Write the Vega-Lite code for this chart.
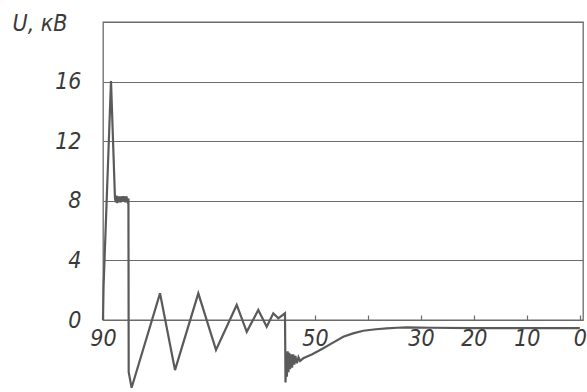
{
  "$schema": "https://vega.github.io/schema/vega-lite/v6.json",
  "width": 480,
  "height": 298,
  "autosize": {"type": "none"},
  "padding": {"left": 103, "top": 22, "right": 4, "bottom": 72},
  "background": "white",
  "config": {
    "view": {"stroke": "#6b6b6b", "strokeWidth": 1.3},
    "font": "Liberation Sans Narrow, DejaVu Sans Condensed, Liberation Sans"
  },
  "data": {"values": [
    {"i": 1, "x": 90, "u": 0},
    {"i": 2, "x": 89.9, "u": 2.2},
    {"i": 3, "x": 88.49, "u": 16.04},
    {"i": 4, "x": 87.74, "u": 8.19},
    {"i": 5, "x": 87.6, "u": 7.9},
    {"i": 6, "x": 87.45, "u": 8.35},
    {"i": 7, "x": 87.3, "u": 7.85},
    {"i": 8, "x": 87.15, "u": 8.3},
    {"i": 9, "x": 87.0, "u": 7.9},
    {"i": 10, "x": 86.8, "u": 8.3},
    {"i": 11, "x": 86.6, "u": 7.9},
    {"i": 12, "x": 86.4, "u": 8.3},
    {"i": 13, "x": 86.2, "u": 8.0},
    {"i": 14, "x": 86.0, "u": 8.3},
    {"i": 15, "x": 85.8, "u": 7.9},
    {"i": 16, "x": 85.6, "u": 8.3},
    {"i": 17, "x": 85.4, "u": 8.0},
    {"i": 18, "x": 85.2, "u": 8.15},
    {"i": 19, "x": 85.15, "u": -3.5},
    {"i": 20, "x": 84.6, "u": -4.55},
    {"i": 21, "x": 79.24, "u": 1.79},
    {"i": 22, "x": 76.41, "u": -3.36},
    {"i": 23, "x": 72.01, "u": 1.79},
    {"i": 24, "x": 68.67, "u": -2.01},
    {"i": 25, "x": 64.76, "u": 1.01},
    {"i": 26, "x": 62.87, "u": -0.79},
    {"i": 27, "x": 60.69, "u": 0.67},
    {"i": 28, "x": 59.1, "u": -0.45},
    {"i": 29, "x": 57.86, "u": 0.45},
    {"i": 30, "x": 56.91, "u": 0.11},
    {"i": 31, "x": 55.65, "u": 0.45},
    {"i": 32, "x": 55.55, "u": -4.2},
    {"i": 33, "x": 55.4, "u": -2.2},
    {"i": 34, "x": 55.3, "u": -3.8},
    {"i": 35, "x": 55.15, "u": -2.1},
    {"i": 36, "x": 55.0, "u": -3.5},
    {"i": 37, "x": 54.85, "u": -2.2},
    {"i": 38, "x": 54.7, "u": -3.3},
    {"i": 39, "x": 54.5, "u": -2.3},
    {"i": 40, "x": 54.3, "u": -3.2},
    {"i": 41, "x": 54.1, "u": -2.3},
    {"i": 42, "x": 53.9, "u": -3.0},
    {"i": 43, "x": 53.7, "u": -2.4},
    {"i": 44, "x": 53.4, "u": -2.9},
    {"i": 45, "x": 53.1, "u": -2.5},
    {"i": 46, "x": 52.8, "u": -2.75},
    {"i": 47, "x": 52.2, "u": -2.57},
    {"i": 48, "x": 50.5, "u": -2.3},
    {"i": 49, "x": 48.42, "u": -1.9},
    {"i": 50, "x": 46.5, "u": -1.5},
    {"i": 51, "x": 44.65, "u": -1.12},
    {"i": 52, "x": 42.8, "u": -0.9},
    {"i": 53, "x": 40.87, "u": -0.72},
    {"i": 54, "x": 38.5, "u": -0.62},
    {"i": 55, "x": 36.45, "u": -0.56},
    {"i": 56, "x": 34.5, "u": -0.52},
    {"i": 57, "x": 32.68, "u": -0.5},
    {"i": 58, "x": 28, "u": -0.52},
    {"i": 59, "x": 20, "u": -0.55},
    {"i": 60, "x": 10, "u": -0.55},
    {"i": 61, "x": 0, "u": -0.55}
  ]},
  "mark": {"type": "line", "color": "#5a5a5a", "strokeWidth": 2.2, "clip": false},
  "encoding": {
    "order": {"field": "i", "type": "quantitative"},
    "x": {
      "field": "x", "type": "quantitative",
      "scale": {"domain": [90, -0.6], "nice": false, "zero": false},
      "axis": {
        "orient": "bottom",
        "values": [90, 50, 40, 30, 20, 10, 0],
        "labelExpr": "datum.value == 40 ? '' : datum.label",
        "domain": false,
        "grid": false,
        "tickSize": -5,
        "tickColor": "#6b6b6b",
        "tickWidth": 1.2,
        "labelPadding": 12,
        "labelFontSize": 23,
        "labelFontStyle": "italic",
        "labelFontWeight": 300,
        "labelColor": "#3a3a3a",
        "labelFlush": false,
        "labelOverlap": false,
        "title": null
      }
    },
    "y": {
      "field": "u", "type": "quantitative",
      "scale": {"domain": [0, 20], "nice": false, "zero": false},
      "axis": {
        "values": [0, 4, 8, 12, 16, 20],
        "labelExpr": "datum.value == 20 ? '' : datum.label",
        "domain": false,
        "ticks": false,
        "grid": true,
        "gridColor": "#6b6b6b",
        "gridWidth": 1.2,
        "gridOpacity": 1,
        "labelPadding": 22,
        "labelFontSize": 23,
        "labelFontStyle": "italic",
        "labelFontWeight": 300,
        "labelColor": "#3a3a3a",
        "labelOverlap": false,
        "title": "U, кВ",
        "titleAngle": 0,
        "titleAlign": "left",
        "titleBaseline": "middle",
        "titleX": -91,
        "titleY": 1,
        "titleFontSize": 23,
        "titleFontStyle": "italic",
        "titleFontWeight": 300,
        "titleColor": "#3a3a3a"
      }
    }
  }
}
